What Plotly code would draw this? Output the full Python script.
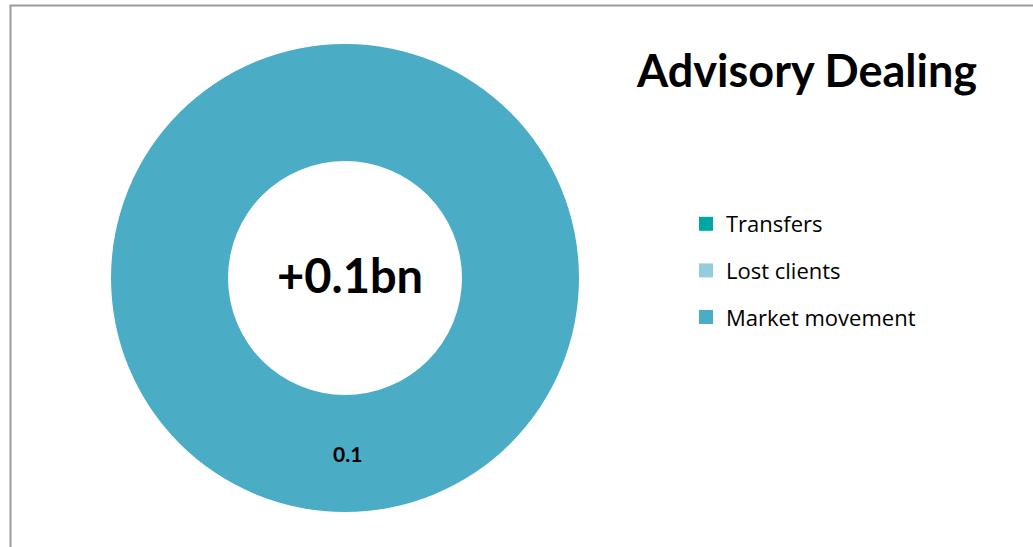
import plotly.graph_objects as go

categories = ["Transfers", "Lost clients", "Market movement"]
values = [0, 0, 0.1]
colors = ["#00A6A2", "#93CDDD", "#4BACC6"]
title_text = "Advisory Dealing"
center_label = "+0.1bn"

W, H = 1033, 547
FONT = "Lato, 'Open Sans', sans-serif"
LEGEND_FONT = "'Open Sans', Lato, sans-serif"
HOLE = 0.5

# pie domain in paper coords (margins are zero)
dx = [110 / W, 580 / W]
dy = [1 - 512 / H, 1 - 44 / H]
cx = (dx[0] + dx[1]) / 2
cy = (dy[0] + dy[1]) / 2
r_out_px = min((dx[1] - dx[0]) * W, (dy[1] - dy[0]) * H) / 2

fig = go.Figure()
fig.add_trace(go.Pie(
    labels=categories,
    values=values,
    marker=dict(colors=colors, line=dict(width=0)),
    hole=HOLE,
    sort=False,
    direction="clockwise",
    rotation=0,
    textinfo="none",
    domain=dict(x=dx, y=dy),
    showlegend=False,
    hoverinfo="label+value",
))

# data label for the non-zero slice, placed mid-ring at the slice's mid-angle (bottom)
mid_r = r_out_px * (1 + HOLE) / 2
for c, v in zip(categories, values):
    if v > 0:
        fig.add_annotation(
            x=cx + 2 / W, y=cy - mid_r / H, xref="paper", yref="paper",
            text=f"<b>{v}</b>", showarrow=False, xanchor="center", yanchor="middle",
            font=dict(family=FONT, size=21, color="#000000"),
        )

# legend-only entries (allows Excel-like spacing between items)
for i, (c, col) in enumerate(zip(categories, colors)):
    fig.add_trace(go.Scatter(
        x=[None], y=[None], mode="markers", name=c,
        marker=dict(symbol="square", size=14, color=col),
        legendgroup=f"g{i}", showlegend=True,
    ))

fig.add_annotation(
    x=cx + 5 / W, y=cy + 0.006,
    xref="paper", yref="paper", text=f"<b>{center_label}</b>",
    xanchor="center", yanchor="middle",
    showarrow=False, font=dict(family=FONT, size=47, color="#000000"),
)
fig.add_annotation(
    x=806 / W, y=1 - 70 / H, xref="paper", yref="paper",
    xanchor="center", yanchor="middle",
    text=f"<b>{title_text}</b>", showarrow=False,
    font=dict(family=FONT, size=45, color="#000000"),
)

fig.add_shape(
    type="rect", xref="paper", yref="paper",
    x0=10.5 / W, x1=1.02, y0=-0.02, y1=1 - 5.5 / H,
    line=dict(color="#9a9a9a", width=2), fillcolor="rgba(0,0,0,0)",
)

fig.update_layout(
    width=W, height=H,
    margin=dict(l=0, r=0, t=0, b=0),
    paper_bgcolor="white", plot_bgcolor="white",
    xaxis=dict(visible=False), yaxis=dict(visible=False),
    legend=dict(
        x=686 / W, y=1 - 203 / H, xanchor="left", yanchor="top",
        font=dict(family=LEGEND_FONT, size=22, color="#000000"),
        traceorder="grouped", tracegroupgap=15,
        itemwidth=30, bgcolor="rgba(0,0,0,0)",
    ),
)

fig.write_html(
    "out.html",
    config={"displayModeBar": False},
    post_script="document.body.style.margin='0px';document.body.style.overflow='hidden';",
)
